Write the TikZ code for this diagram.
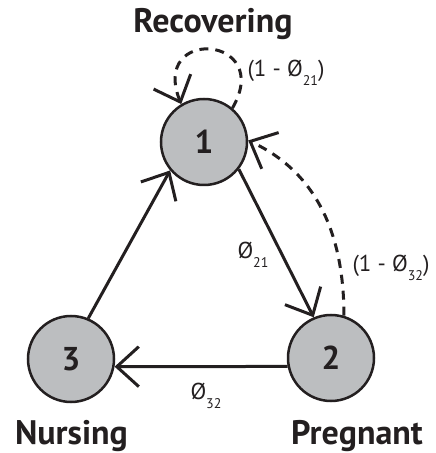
\documentclass[tikz,border=0pt]{standalone}
\usepackage{fontspec}
\setmainfont{PT Sans}
\usetikzlibrary{arrows.meta}

\definecolor{ink}{HTML}{231F20}
\definecolor{stategray}{HTML}{BCBEC0}

\tikzstyle{vertex}=[circle, draw, line width=2.5pt, fill=stategray, minimum size=86pt, inner sep=0pt, font=\fontsize{33}{33}\selectfont\bfseries]
\tikzstyle{state name}=[inner sep=0pt, font=\fontsize{34}{34}\selectfont\bfseries]
\tikzstyle{rate}=[inner sep=0pt, font=\fontsize{23}{23}\selectfont]
\tikzstyle{stay}=[dash pattern=on 9pt off 7pt]

\newcommand{\trans}[1]{Ø\raisebox{-9pt}{\fontsize{14}{14}\selectfont #1}}

\begin{document}
\begin{tikzpicture}[x=1pt, y=1pt, color=ink, line width=3pt, >={Straight Barb[length=22pt, width=40pt]}]
\useasboundingbox (0,0) rectangle (436,453);

\node[vertex](v1) at (204,311) {1};
\node[vertex](v2) at (331,95) {2};
\node[vertex](v3) at (71,94) {3};

\node[state name, anchor=base](recovering) at (213,420) {Recovering};
\node[state name, anchor=base](pregnant) at (357,9) {Pregnant};
\node[state name, anchor=base](nursing) at (71.5,9) {Nursing};

\draw[->] (v1.-38) -- (v2.113);
\draw[->] (v2.191) -- (v3.-10);
\draw[->] (v3.67) -- (v1.220);

% staying in a state
\draw[->, stay] (v1.50) to[out=60, in=112, looseness=4.2] (v1.121);
\draw[->, stay] (v2.73) to[out=90, in=-25] (v1.2);

\node[rate, anchor=base west](p21) at (236,194) {\trans{21}};
\node[rate, anchor=base west](p32) at (189,53) {\trans{32}};
\node[rate, anchor=base west](q21) at (246,376) {(1 - \trans{21})};
\node[rate, anchor=base west](q32) at (351,181) {(1 - \trans{32})};
\end{tikzpicture}
\end{document}
